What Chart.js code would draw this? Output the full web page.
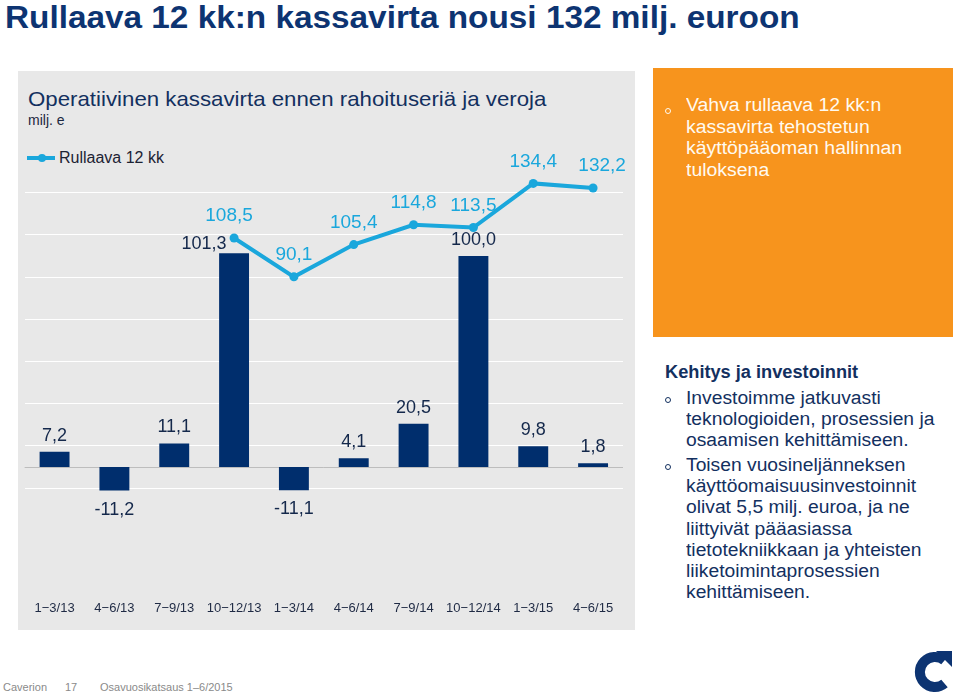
<!DOCTYPE html>
<html lang="fi">
<head>
<meta charset="utf-8">
<script src="https://cdn.jsdelivr.net/npm/chart.js@4/dist/chart.umd.min.js"></script>
<style>
  html, body { margin:0; padding:0; background:#ffffff; }
  body { width:959px; height:697px; position:relative; overflow:hidden; font-family:"Liberation Sans", Arial, sans-serif; }
  .abs { position:absolute; white-space:nowrap; }
  .sx { transform-origin:0 0; }
  #title { left:5px; top:2px; font-size:31px; line-height:31px; font-weight:bold; color:#0d3472; transform:scaleX(1.075); }
  #panel { left:18px; top:71px; width:617px; height:559px; background:#e8e8e8; }
  #ptitle { left:28px; top:88px; font-size:21px; line-height:21px; color:#13305f; transform:scaleX(1.06); }
  #unit { left:28px; top:113px; font-size:14px; line-height:14px; color:#1c2740; }
  #legend { left:27px; top:150px; font-size:16px; line-height:16px; color:#1c2233; }
  #legend .sw { position:absolute; left:0; top:6px; width:28px; height:4px; background:#1aa7dc; }
  #legend .dot { position:absolute; left:11px; top:4px; width:8px; height:8px; border-radius:50%; background:#1aa7dc; }
  #legend .txt { position:absolute; left:32px; top:0; }
  #chartwrap { left:14px; top:130px; width:621px; height:520px; }
  #orange { left:653px; top:68px; width:300px; height:269px; background:#f7941d; }
  .otext { left:686px; top:95px; font-size:18px; line-height:21.5px; color:#fffaf0; transform:scaleX(1.08); }
  .bul { position:absolute; width:4px; height:4px; border-radius:50%; border:1px solid; }
  #kh { left:665px; top:362px; font-size:17.5px; line-height:20px; font-weight:bold; color:#13305f; transform:scaleX(1.04); }
  .btext { left:686px; font-size:18px; line-height:21.2px; color:#13305f; transform:scaleX(1.07); }
  .foot { top:682px; font-size:11px; line-height:11px; color:#8a8a8a; }
</style>
</head>
<body>
<div id="title" class="abs sx">Rullaava 12 kk:n kassavirta nousi 132 milj. euroon</div>
<div id="panel" class="abs"></div>
<div id="ptitle" class="abs sx">Operatiivinen kassavirta ennen rahoituseriä ja veroja</div>
<div id="unit" class="abs">milj. e</div>
<div id="legend" class="abs"><span class="sw"></span><span class="dot"></span><span class="txt">Rullaava 12 kk</span></div>
<div id="chartwrap" class="abs"><canvas id="c" width="621" height="520"></canvas></div>

<div id="orange" class="abs"></div>
<span class="bul" style="left:665px;top:108px;border-color:#fffaf0;"></span>
<div class="abs otext sx">Vahva rullaava 12 kk:n<br>kassavirta tehostetun<br>käyttöpääoman hallinnan<br>tuloksena</div>

<div id="kh" class="abs sx">Kehitys ja investoinnit</div>
<span class="bul" style="left:665px;top:397px;border-color:#13305f;"></span>
<div class="abs btext sx" style="top:388px;">Investoimme jatkuvasti<br>teknologioiden, prosessien ja<br>osaamisen kehittämiseen.</div>
<span class="bul" style="left:665px;top:464px;border-color:#13305f;"></span>
<div class="abs btext sx" style="top:455px;">Toisen vuosineljänneksen<br>käyttöomaisuusinvestoinnit<br>olivat 5,5 milj. euroa, ja ne<br>liittyivät pääasiassa<br>tietotekniikkaan ja yhteisten<br>liiketoimintaprosessien<br>kehittämiseen.</div>

<div class="abs foot" style="left:3px;">Caverion</div>
<div class="abs foot" style="left:65px;">17</div>
<div class="abs foot" style="left:100px;">Osavuosikatsaus 1–6/2015</div>

<svg class="abs" style="left:905px;top:645px;" width="54" height="52" viewBox="905 645 54 52">
  <path d="M 944.5 660.5 A 15 15 0 1 0 944.5 683.5" fill="none" stroke="#0d3472" stroke-width="10"/>
  <polygon points="936,651 952,651 952,667" fill="#0d3472"/>
</svg>

<script>
// ---- data ----
const categories = ["1−3/13","4−6/13","7−9/13","10−12/13","1−3/14","4−6/14","7−9/14","10−12/14","1−3/15","4−6/15"];
const quarterly = [7.2, -11.2, 11.1, 101.3, -11.1, 4.1, 20.5, 100.0, 9.8, 1.8];
const rolling12 = [null, null, null, 108.5, 90.1, 105.4, 114.8, 113.5, 134.4, 132.2];
const seriesNames = ["Operatiivinen kassavirta", "Rullaava 12 kk"];

const NAVY = "#002e6d";
const CYAN = "#1aa7dc";
const fmt = v => v.toFixed(1).replace(".", ",");

const zeroLine = {
  id: "zeroLine",
  beforeDatasetsDraw(chart) {
    const {ctx, chartArea, scales} = chart;
    const y = Math.round(scales.y.getPixelForValue(0)) + 0.5;
    ctx.save();
    ctx.strokeStyle = "#bdbdbd";
    ctx.lineWidth = 1;
    ctx.beginPath();
    ctx.moveTo(chartArea.left, y);
    ctx.lineTo(chartArea.right, y);
    ctx.stroke();
    ctx.restore();
  }
};

const valueLabels = {
  id: "valueLabels",
  afterDatasetsDraw(chart) {
    const ctx = chart.ctx;
    ctx.save();
    ctx.textAlign = "center";
    ctx.textBaseline = "middle";
    // bars
    const barMeta = chart.getDatasetMeta(0);
    ctx.font = "18px 'Liberation Sans', Arial, sans-serif";
    ctx.fillStyle = "#14284b";
    barMeta.data.forEach((el, i) => {
      const v = quarterly[i];
      let x = el.x, y;
      if (v >= 0) y = el.y - 16; else y = el.y + 19;
      if (i === 3) { x -= 30; y += 7; }
      ctx.fillText(fmt(v), x, y);
    });
    // line
    const lineMeta = chart.getDatasetMeta(1);
    ctx.font = "19px 'Liberation Sans', Arial, sans-serif";
    ctx.fillStyle = CYAN;
    lineMeta.data.forEach((el, i) => {
      const v = rolling12[i];
      if (v === null || v === undefined) return;
      let x = el.x;
      if (i === 3) x -= 5;
      if (i === 9) x += 9;
      ctx.fillText(fmt(v), x, el.y - 22);
    });
    ctx.restore();
  }
};

new Chart(document.getElementById("c"), {
  type: "bar",
  data: {
    labels: categories,
    datasets: [
      {
        type: "bar",
        label: seriesNames[0],
        data: quarterly,
        backgroundColor: NAVY,
        borderWidth: 0,
        barPercentage: 0.5,
        categoryPercentage: 1.0,
        order: 2
      },
      {
        type: "line",
        label: seriesNames[1],
        data: rolling12,
        borderColor: CYAN,
        backgroundColor: CYAN,
        borderWidth: 4,
        pointRadius: 4.5,
        pointBackgroundColor: CYAN,
        pointBorderWidth: 0,
        tension: 0,
        order: 1
      }
    ]
  },
  options: {
    responsive: false,
    devicePixelRatio: 1,
    animation: false,
    layout: { padding: { left: 10, right: 12, top: 20.5, bottom: 14 } },
    plugins: { legend: { display: false }, tooltip: { enabled: false } },
    scales: {
      x: {
        grid: { display: false },
        border: { display: false },
        ticks: {
          color: "#1f2a44",
          font: { family: "'Liberation Sans', Arial, sans-serif", size: 13 },
          padding: 20,
          maxRotation: 0,
          autoSkip: false
        }
      },
      y: {
        min: -50,
        max: 150,
        border: { display: false },
        grid: {
          drawTicks: false,
          color: c => (c.tick && c.tick.value >= -10 && c.tick.value <= 130) ? "#ffffff" : "rgba(0,0,0,0)",
          lineWidth: 1
        },
        ticks: { display: false, stepSize: 20 }
      }
    }
  },
  plugins: [zeroLine, valueLabels]
});
</script>
</body>
</html>
